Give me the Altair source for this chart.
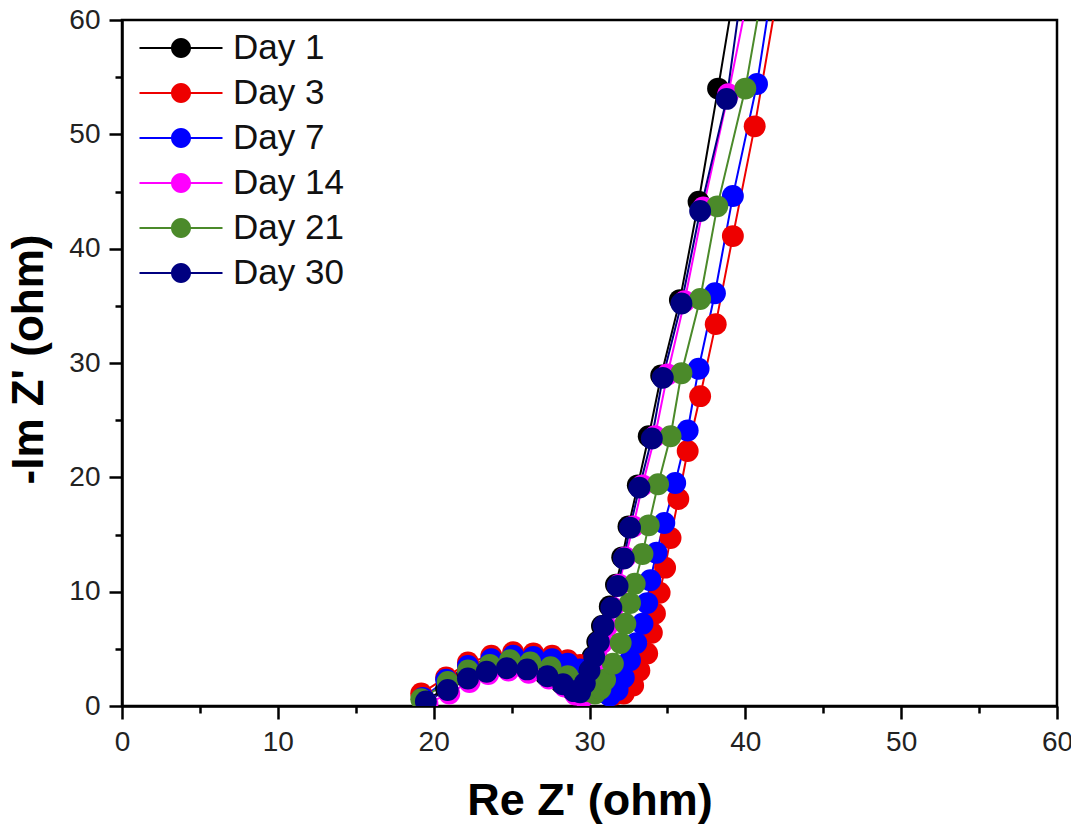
import altair as alt
import pandas as pd

series_names = ["Day 1", "Day 3", "Day 7", "Day 14", "Day 21", "Day 30"]
series_colors = ["#000000", "#ee0000", "#0000ff", "#ff00ff", "#4b8a2a", "#000080"]

day1_x = [19.4, 20.8, 22.1, 23.3, 24.6, 25.9, 27.2, 28.2, 28.9, 29.3, 29.6, 29.9, 30.2, 30.5, 30.8, 31.3, 31.7, 32.1, 32.5, 33.1, 33.8, 34.6, 35.8, 37.0, 38.25, 39.1]
day1_y = [0.5, 1.5, 2.5, 3.1, 3.4, 3.3, 2.7, 2.0, 1.4, 1.2, 2.0, 3.1, 4.3, 5.6, 7.0, 8.7, 10.6, 13.0, 15.7, 19.3, 23.6, 28.9, 35.5, 44.1, 54.0, 61.0]

day3_x = [19.2, 20.8, 22.2, 23.7, 25.1, 26.4, 27.6, 28.6, 29.4, 30.1, 30.6, 31.1, 31.6, 32.2, 32.8, 33.2, 33.7, 34.0, 34.2, 34.5, 34.85, 35.2, 35.7, 36.3, 37.1, 38.1, 39.2, 40.6, 41.9]
day3_y = [1.1, 2.5, 3.8, 4.4, 4.7, 4.6, 4.4, 4.0, 3.6, 3.0, 2.3, 1.6, 1.0, 1.1, 1.8, 3.1, 4.6, 6.4, 8.1, 9.9, 12.1, 14.7, 18.1, 22.3, 27.1, 33.4, 41.1, 50.7, 61.0]

day7_x = [19.3, 20.8, 22.2, 23.7, 25.1, 26.4, 27.6, 28.6, 29.4, 30.0, 30.5, 30.9, 31.3, 31.8, 32.2, 32.6, 33.0, 33.4, 33.7, 33.9, 34.3, 34.8, 35.5, 36.3, 37.0, 38.05, 39.2, 40.75, 41.5]
day7_y = [0.7, 2.3, 3.5, 4.1, 4.4, 4.3, 4.1, 3.7, 3.2, 2.5, 1.8, 1.2, 0.9, 1.4, 2.5, 4.0, 5.5, 7.2, 9.0, 11.0, 13.4, 16.0, 19.5, 24.1, 29.5, 36.1, 44.6, 54.4, 61.0]

day14_x = [19.6, 21.0, 22.3, 23.5, 24.8, 26.1, 27.4, 28.4, 29.1, 29.6, 29.9, 30.2, 30.5, 30.8, 31.1, 31.5, 31.9, 32.3, 32.8, 33.4, 34.2, 35.0, 36.1, 37.3, 38.9, 40.0]
day14_y = [0.2, 1.1, 2.1, 2.8, 3.1, 2.9, 2.4, 1.7, 1.0, 0.8, 1.8, 3.0, 4.2, 5.5, 6.9, 8.6, 10.6, 13.0, 15.7, 19.3, 23.6, 29.0, 35.4, 43.6, 53.5, 61.0]

day21_x = [19.2, 20.9, 22.2, 23.6, 24.9, 26.2, 27.5, 28.6, 29.3, 29.9, 30.35, 30.7, 31.0, 31.5, 32.0, 32.3, 32.6, 32.9, 33.4, 33.8, 34.4, 35.2, 35.9, 37.1, 38.2, 40.0, 40.9]
day21_y = [0.6, 2.1, 3.1, 3.6, 4.0, 3.8, 3.4, 2.6, 1.9, 1.3, 1.1, 1.5, 2.3, 3.7, 5.5, 7.2, 9.0, 10.7, 13.3, 15.8, 19.4, 23.6, 29.1, 35.6, 43.7, 54.0, 61.0]

day30_x = [19.5, 20.9, 22.2, 23.4, 24.7, 26.0, 27.3, 28.3, 29.0, 29.4, 29.7, 30.0, 30.3, 30.6, 30.9, 31.4, 31.8, 32.2, 32.6, 33.2, 34.0, 34.7, 35.9, 37.1, 38.8, 39.6]
day30_y = [0.4, 1.4, 2.4, 3.0, 3.3, 3.2, 2.6, 1.9, 1.3, 1.2, 2.0, 3.1, 4.3, 5.6, 7.0, 8.6, 10.5, 12.9, 15.6, 19.1, 23.4, 28.7, 35.2, 43.3, 53.1, 61.0]

tick_values = [0, 5, 10, 15, 20, 25, 30, 35, 40, 45, 50, 55, 60]

all_x = [day1_x, day3_x, day7_x, day14_x, day21_x, day30_x]
all_y = [day1_y, day3_y, day7_y, day14_y, day21_y, day30_y]

rows = []
for name, col, xs, ys in zip(series_names, series_colors, all_x, all_y):
    for i, (xv, yv) in enumerate(zip(xs, ys)):
        rows.append({"series": name, "lc": col, "re": xv, "im": yv, "idx": i})
df = pd.DataFrame(rows)

FONT = "Liberation Sans"
W, H = 935, 686

# legend glyph: line segment with a filled circle in the middle (unit = 10 px)
legend_path = ("M-4.15,-0.1L4.15,-0.1L4.15,0.1L-4.15,0.1Z "
               "M1,0A1,1,0,1,1,-1,0A1,1,0,1,1,1,0Z")

tick_size = {"condition": {"test": "datum.value % 10 === 0", "value": 13}, "value": 7}
label_expr = "datum.value % 10 === 0 ? datum.label : ''"

x_enc = alt.X(
    "re:Q",
    scale=alt.Scale(domain=[0, 60], nice=False, zero=False),
    axis=alt.Axis(
        values=tick_values, labelExpr=label_expr, tickSize=tick_size,
        title="Re Z' (ohm)", titleFontSize=45, titleFontWeight="bold",
        titleY=108, titleBaseline="alphabetic",
        labelFontSize=28, labelPadding=9, labelFlush=False, labelOverlap=False,
        grid=False,
    ),
)
y_enc = alt.Y(
    "im:Q",
    scale=alt.Scale(domain=[0, 60], nice=False, zero=False),
    axis=alt.Axis(
        values=tick_values, labelExpr=label_expr, tickSize=tick_size,
        title="-Im Z' (ohm)", titleFontSize=44, titleFontWeight="bold",
        titleX=-80, titleY=339, titleBaseline="alphabetic", titleAngle=270,
        titleAlign="center",
        labelFontSize=28, labelPadding=9, labelFlush=False, labelOverlap=False,
        grid=False,
    ),
)

lines = alt.Chart(df).mark_line(strokeWidth=2, clip=True).encode(
    x=x_enc,
    y=y_enc,
    stroke=alt.Stroke("lc:N", scale=None),
    order="idx:Q",
)

points = alt.Chart(df).mark_point(filled=True, size=480, opacity=1, clip=True, strokeWidth=0).encode(
    x=x_enc,
    y=y_enc,
    color=alt.Color(
        "series:N", scale=alt.Scale(domain=series_names, range=series_colors),
        legend=alt.Legend(
            title=None, orient="none", legendX=41.5, legendY=10.5, padding=0,
            symbolType=legend_path, symbolSize=400, symbolStrokeWidth=0,
            symbolOpacity=1, symbolOffset=0,
            labelFontSize=35, labelFont=FONT, labelColor="#111111",
            labelOffset=34.5, rowPadding=9,
        ),
    ),
)

chart = alt.layer(lines, points).properties(
    width=W, height=H,
    autosize=alt.AutoSizeParams(type="none"),
    padding={"left": 114, "top": 12, "right": 14, "bottom": 118},
).configure(
    font=FONT,
).configure_view(
    stroke="black", strokeWidth=2.5,
).configure_axis(
    domainColor="black", domainWidth=2.5, tickColor="black", tickWidth=2.5,
    labelColor="#222222", titleColor="black", labelFont=FONT, titleFont=FONT,
)

chart.save("out.html", embed_options={"renderer": "svg", "actions": False})
